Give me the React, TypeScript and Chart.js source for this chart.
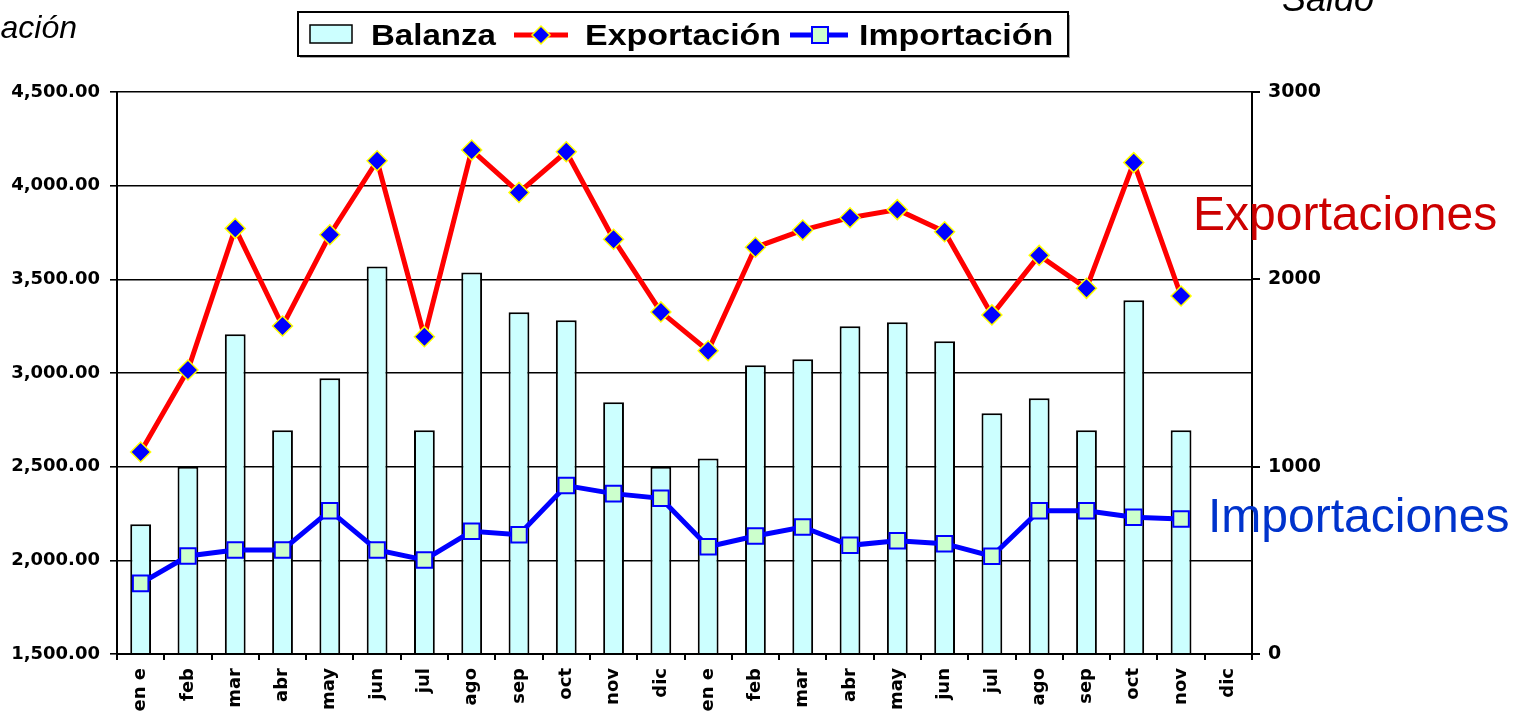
import React, { useEffect, useRef } from "react";
import { Chart, registerables } from "chart.js";

Chart.register(...registerables);

const categories = ["en e", "feb", "mar", "abr", "may", "jun", "jul", "ago", "sep", "oct", "nov", "dic",
  "en e", "feb", "mar", "abr", "may", "jun", "jul", "ago", "sep", "oct", "nov", "dic"];
const balanza = [692, 1000, 1707, 1195, 1472, 2069, 1195, 2037, 1824, 1781, 1344, 1000,
  1044, 1541, 1573, 1749, 1771, 1669, 1285, 1365, 1195, 1888, 1195, null];
const exportacion = [2578, 3016, 3772, 3251, 3738, 4133, 3194, 4190, 3964, 4181, 3714, 3326,
  3119, 3671, 3763, 3829, 3872, 3754, 3310, 3628, 3452, 4123, 3411, null];
const importacion = [1877, 2023, 2055, 2055, 2265, 2055, 2002, 2155, 2137, 2399, 2356, 2331,
  2073, 2130, 2178, 2080, 2105, 2089, 2022, 2265, 2265, 2230, 2221, null];

const leftMin = 1500;
const leftMax = 4500;
const leftStep = 500;
const rightMin = 0;
const rightMax = 3000;
const rightStep = 1000;

const seriesNames = ["Balanza", "Exportación", "Importación"];
const leftTitle = "ación";
const rightTitle = "Saldo";
const exportNote = "Exportaciones";
const importNote = "Importaciones";

const ARIAL = "'Liberation Sans', Arial, sans-serif";
const DEJAVU = "'DejaVu Sans', sans-serif";

function stretchText(ctx: CanvasRenderingContext2D, text: string, x: number, y: number, font: string, color: string, sx: number, align: CanvasTextAlign = "left") {
  ctx.save();
  ctx.translate(x, y);
  ctx.scale(sx, 1);
  ctx.font = font;
  ctx.fillStyle = color;
  ctx.textAlign = align;
  ctx.textBaseline = "alphabetic";
  ctx.fillText(text, 0, 0);
  ctx.restore();
}

const overlayPlugin = {
  id: "overlay",
  afterDraw(chart: any) {
    const ctx: CanvasRenderingContext2D = chart.ctx;
    ctx.save();
    // legend box
    ctx.fillStyle = "rgba(0,0,0,0.35)";
    ctx.fillRect(300, 15, 770, 43);
    ctx.fillStyle = "#ffffff";
    ctx.fillRect(298, 12, 770, 44);
    ctx.strokeStyle = "#000";
    ctx.lineWidth = 2;
    ctx.strokeRect(298, 12, 770, 44);
    // balanza swatch
    ctx.fillStyle = "#CCFFFF";
    ctx.fillRect(310, 25, 42, 18);
    ctx.lineWidth = 1.5;
    ctx.strokeRect(310, 25, 42, 18);
    // export symbol
    ctx.strokeStyle = "#FF0000";
    ctx.lineWidth = 5;
    ctx.beginPath();
    ctx.moveTo(514, 35);
    ctx.lineTo(568, 35);
    ctx.stroke();
    ctx.beginPath();
    ctx.moveTo(541, 26);
    ctx.lineTo(550, 35);
    ctx.lineTo(541, 44);
    ctx.lineTo(532, 35);
    ctx.closePath();
    ctx.fillStyle = "#0000FF";
    ctx.fill();
    ctx.strokeStyle = "#FFFF00";
    ctx.lineWidth = 1.5;
    ctx.stroke();
    // import symbol
    ctx.strokeStyle = "#0000FF";
    ctx.lineWidth = 5;
    ctx.beginPath();
    ctx.moveTo(790, 35);
    ctx.lineTo(848, 35);
    ctx.stroke();
    ctx.fillStyle = "#CCFFCC";
    ctx.fillRect(812, 27, 16, 16);
    ctx.lineWidth = 2;
    ctx.strokeRect(812, 27, 16, 16);
    ctx.restore();

    const lf = `bold 29px ${ARIAL}`;
    stretchText(ctx, seriesNames[0], 371, 45, lf, "#000", 1.14);
    stretchText(ctx, seriesNames[1], 585, 45, lf, "#000", 1.17);
    stretchText(ctx, seriesNames[2], 859, 45, lf, "#000", 1.17);

    stretchText(ctx, leftTitle, 77, 38, `italic 32px ${ARIAL}`, "#000", 1, "right");
    stretchText(ctx, rightTitle, 1282, 11, `italic 36px ${ARIAL}`, "#000", 1);
    stretchText(ctx, exportNote, 1193, 230, `48px ${ARIAL}`, "#CC0000", 1);
    stretchText(ctx, importNote, 1208, 532, `48px ${ARIAL}`, "#0033CC", 1);
  },
};

export default function App() {
  const ref = useRef<HTMLCanvasElement | null>(null);

  useEffect(() => {
    if (!ref.current) return;
    const chart = new Chart(ref.current, {
      type: "bar",
      data: {
        labels: categories,
        datasets: [
          {
            type: "line",
            label: seriesNames[1],
            data: exportacion,
            yAxisID: "y",
            borderColor: "#FF0000",
            borderWidth: 5,
            pointStyle: "rectRot",
            pointRadius: 10,
            pointBackgroundColor: "#0000FF",
            pointBorderColor: "#FFFF00",
            pointBorderWidth: 1.5,
            tension: 0,
            order: 1,
          } as any,
          {
            type: "line",
            label: seriesNames[2],
            data: importacion,
            yAxisID: "y",
            borderColor: "#0000FF",
            borderWidth: 5,
            pointStyle: "rect",
            pointRadius: 11,
            pointBackgroundColor: "#CCFFCC",
            pointBorderColor: "#0000FF",
            pointBorderWidth: 2,
            tension: 0,
            order: 2,
          } as any,
          {
            type: "bar",
            label: seriesNames[0],
            data: balanza,
            yAxisID: "y1",
            backgroundColor: "#CCFFFF",
            borderColor: "#000000",
            borderWidth: 2,
            barPercentage: 0.44,
            categoryPercentage: 1,
            order: 3,
          } as any,
        ],
      },
      options: {
        responsive: false,
        animation: false,
        devicePixelRatio: 1,
        layout: { padding: { top: 92, left: 0, right: 0, bottom: 0 } },
        plugins: {
          legend: { display: false },
          tooltip: { enabled: false },
        },
        scales: {
          x: {
            offset: true,
            grid: {
              display: true,
              drawOnChartArea: false,
              drawTicks: true,
              tickLength: 6,
              color: "#000",
              lineWidth: 2,
              offset: true,
            },
            border: { display: true, color: "#000", width: 2 },
            ticks: {
              autoSkip: false,
              maxRotation: 90,
              minRotation: 90,
              padding: 8,
              color: "#000",
              font: { family: DEJAVU, size: 18, weight: "bold" },
            },
            afterFit(s: any) {
              s.height = 61;
            },
          },
          y: {
            position: "left",
            min: leftMin,
            max: leftMax,
            ticks: {
              stepSize: leftStep,
              padding: 10,
              color: "#000",
              font: { family: DEJAVU, size: 18, weight: "bold" },
              callback: (v: any) =>
                Number(v).toLocaleString("en-US", { minimumFractionDigits: 2, maximumFractionDigits: 2 }),
            },
            grid: { color: "#000", lineWidth: 1.6, tickLength: 7 },
            border: { display: true, color: "#000", width: 2 },
            afterFit(s: any) {
              s.width = 117;
            },
          },
          y1: {
            position: "right",
            min: rightMin,
            max: rightMax,
            ticks: {
              stepSize: rightStep,
              padding: 8,
              color: "#000",
              font: { family: DEJAVU, size: 19, weight: "bold" },
              callback: (v: any) => String(v),
            },
            grid: { drawOnChartArea: false, color: "#000", lineWidth: 2, tickLength: 8 },
            border: { display: true, color: "#000", width: 2 },
            afterFit(s: any) {
              s.width = 261;
            },
          },
        },
      } as any,
      plugins: [overlayPlugin],
    });
    return () => chart.destroy();
  }, []);

  return (
    <div style={{ position: "absolute", left: 0, top: 0, width: 1513, height: 715, background: "#fff" }}>
      <canvas ref={ref} width={1513} height={715} />
    </div>
  );
}
